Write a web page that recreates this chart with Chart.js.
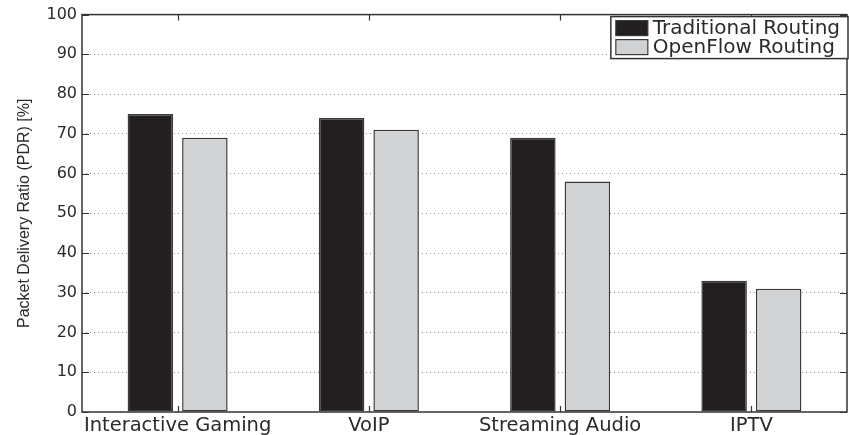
<!DOCTYPE html>
<html>
<head>
<meta charset="utf-8">
<script src="https://cdn.jsdelivr.net/npm/chart.js@4.4.1/dist/chart.umd.min.js"></script>
<style>
  html, body { margin: 0; padding: 0; background: #fff; }
  #wrap { width: 849px; height: 435px; }
</style>
</head>
<body>
<div id="wrap"><canvas id="c" width="849" height="435"></canvas></div>
<script>
// Packet delivery ratio per traffic class
const categories = ['Interactive Gaming', 'VoIP', 'Streaming Audio', 'IPTV'];
const traditionalPDR = [75, 74, 69, 33];
const openflowPDR = [69, 71, 58, 31];
const seriesNames = ['Traditional Routing', 'OpenFlow Routing'];
const yTicks = [0, 10, 20, 30, 40, 50, 60, 70, 80, 90, 100];

const FILL_DARK = '#231f20';
const FILL_LIGHT = '#d1d2d4';
const EDGE = '#3a3a3a';
const AXIS = '#333333';

// Box frame, inward tick marks and a boxed legend, drawn over the bars
const framePlugin = {
  id: 'frame',
  afterDatasetsDraw(chart) {
    const { ctx, chartArea: a, scales } = chart;
    const x = scales.x, y = scales.y;
    ctx.save();
    ctx.strokeStyle = AXIS;
    ctx.lineWidth = 1.5;
    ctx.strokeRect(a.left, a.top, a.right - a.left, a.bottom - a.top);
    ctx.lineWidth = 1.2;
    ctx.beginPath();
    yTicks.forEach(v => {
      const py = Math.round(y.getPixelForValue(v)) + 0.5;
      ctx.moveTo(a.left, py); ctx.lineTo(a.left + 7, py);
      ctx.moveTo(a.right, py); ctx.lineTo(a.right - 7, py);
    });
    categories.forEach((c, i) => {
      const px = Math.round(x.getPixelForValue(i)) + 0.5;
      ctx.moveTo(px, a.top); ctx.lineTo(px, a.top + 6);
      ctx.moveTo(px, a.bottom); ctx.lineTo(px, a.bottom - 6);
    });
    ctx.stroke();

    // legend
    ctx.font = '20px "DejaVu Sans"';
    const tw = Math.max(...seriesNames.map(s => ctx.measureText(s).width));
    const sw = 32, sh = 15, pad = 5, gap = 5, rowH = 19;
    const w = pad + sw + gap + tw + 8;
    const h = 42;
    const lx = a.right - w + 1, ly = a.top + 2;
    ctx.fillStyle = '#fff';
    ctx.fillRect(lx, ly, w, h);
    ctx.lineWidth = 1.5;
    ctx.strokeStyle = AXIS;
    ctx.strokeRect(lx, ly, w, h);
    const fills = [FILL_DARK, FILL_LIGHT];
    seriesNames.forEach((s, i) => {
      const sy = ly + 4 + i * rowH;
      ctx.fillStyle = fills[i];
      ctx.fillRect(lx + pad, sy, sw, sh);
      ctx.lineWidth = 1.2;
      ctx.strokeStyle = EDGE;
      ctx.strokeRect(lx + pad, sy, sw, sh);
      ctx.fillStyle = '#2a2a2a';
      ctx.textBaseline = 'middle';
      ctx.textAlign = 'left';
      ctx.fillText(s, lx + pad + sw + gap, sy + sh / 2 + 1);
    });
    ctx.restore();
  }
};

new Chart(document.getElementById('c'), {
  type: 'bar',
  data: {
    labels: categories,
    datasets: [
      { label: seriesNames[0], data: traditionalPDR, backgroundColor: FILL_DARK,
        borderColor: EDGE, borderWidth: 1.5, borderSkipped: false },
      { label: seriesNames[1], data: openflowPDR, backgroundColor: FILL_LIGHT,
        borderColor: EDGE, borderWidth: 1.5, borderSkipped: false }
    ]
  },
  options: {
    responsive: false,
    animation: false,
    devicePixelRatio: 1,
    layout: { padding: { left: 0, right: 2, top: 13, bottom: 0 } },
    datasets: { bar: { categoryPercentage: 0.57, barPercentage: 0.835 } },
    plugins: { legend: { display: false }, tooltip: { enabled: false } },
    scales: {
      x: {
        grid: { display: false },
        border: { display: false },
        ticks: { color: '#2a2a2a', font: { family: 'DejaVu Sans', size: 19.5 }, padding: -6,
                 maxRotation: 0, autoSkip: false },
        afterFit(s) { s.height = 23; }
      },
      y: {
        min: 0, max: 100,
        afterBuildTicks(s) { s.ticks = yTicks.map(v => ({ value: v })); },
        border: { display: false, dash: [1, 3] },
        grid: {
          drawTicks: false,
          color: ctx => (ctx.tick && (ctx.tick.value === 0 || ctx.tick.value === 100)) ? 'rgba(0,0,0,0)' : '#8a8a8a',
          lineWidth: 1
        },
        ticks: { color: '#2a2a2a', font: { family: 'DejaVu Sans', size: 16 }, padding: 5 },
        title: {
          display: true,
          text: 'Packet Delivery Ratio (PDR) [%]',
          color: '#2a2a2a',
          font: { family: 'Liberation Sans', size: 16 },
          padding: { top: 15, bottom: 0 }
        },
        afterFit(s) { s.width = 82; }
      }
    }
  },
  plugins: [framePlugin]
});
</script>
</body>
</html>
